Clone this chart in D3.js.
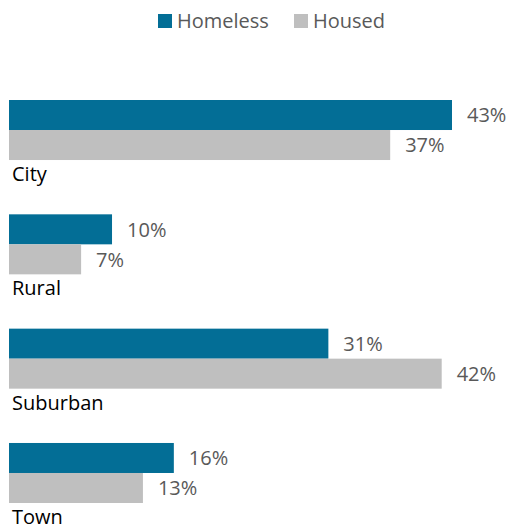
<!DOCTYPE html>
<html>
<head>
<meta charset="utf-8">
<script src="https://cdn.jsdelivr.net/npm/d3@7"></script>
<style>
  html, body { margin: 0; padding: 0; background: #fff; }
  svg { display: block; font-family: "Open Sans", Lato, sans-serif; }
</style>
</head>
<body>
<svg id="chart" width="508" height="525"></svg>
<script>
// Share of people by locale type
const categories = ["City", "Rural", "Suburban", "Town"];
const seriesNames = ["Homeless", "Housed"];
const homeless = [43, 10, 31, 16];
const housed = [37, 7, 42, 13];
const colors = ["#036e96", "#bfbfbf"];

const rows = categories.map((c, i) => ({ category: c, values: [homeless[i], housed[i]] }));

const svg = d3.select("#chart");

const x = d3.scaleLinear().domain([0, 43]).range([9, 452]);

const y = d3.scaleBand()
  .domain(categories)
  .range([100, 503])
  .paddingInner(0.475)
  .paddingOuter(0);

const ySeries = d3.scaleBand()
  .domain(seriesNames)
  .range([0, y.bandwidth()])
  .padding(0);

const groups = svg.selectAll("g.group")
  .data(rows)
  .join("g")
  .attr("class", "group")
  .attr("transform", d => `translate(0,${y(d.category)})`);

groups.selectAll("rect")
  .data(d => d.values.map((v, j) => ({ series: seriesNames[j], value: v, j })))
  .join("rect")
  .attr("x", x(0))
  .attr("y", d => ySeries(d.series))
  .attr("width", d => x(d.value) - x(0))
  .attr("height", ySeries.bandwidth())
  .attr("fill", d => colors[d.j]);

groups.selectAll("text.value")
  .data(d => d.values.map((v, j) => ({ series: seriesNames[j], value: v })))
  .join("text")
  .attr("class", "value")
  .attr("x", d => x(d.value) + 15)
  .attr("y", d => ySeries(d.series) + ySeries.bandwidth() / 2)
  .attr("dy", "0.36em")
  .attr("font-size", 20)
  .attr("fill", "#595959")
  .text(d => d.value + "%");

groups.append("text")
  .attr("class", "category")
  .attr("x", 12)
  .attr("y", y.bandwidth() + 21)
  .attr("font-size", 20)
  .attr("fill", "#000")
  .text(d => d.category);

// Legend
const legendX = [158, 294];
const legend = svg.selectAll("g.legend")
  .data(seriesNames)
  .join("g")
  .attr("class", "legend")
  .attr("transform", (d, i) => `translate(${legendX[i]},14)`);

legend.append("rect")
  .attr("width", 14)
  .attr("height", 14)
  .attr("fill", (d, i) => colors[i]);

legend.append("text")
  .attr("x", 19)
  .attr("y", 7)
  .attr("dy", "0.36em")
  .attr("font-size", 20)
  .attr("fill", "#595959")
  .text(d => d);
</script>
</body>
</html>
